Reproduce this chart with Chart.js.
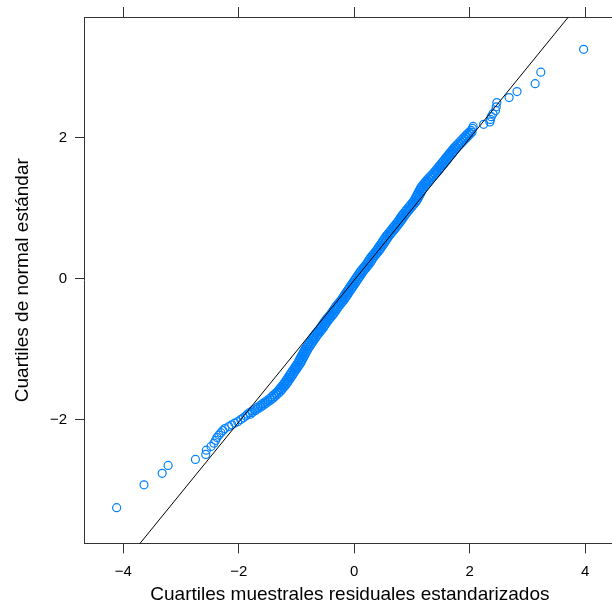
<!DOCTYPE html>
<html>
<head>
<meta charset="utf-8">
<script src="https://cdn.jsdelivr.net/npm/chart.js@4"></script>
<style>
  html, body { margin: 0; padding: 0; background: #fff; overflow: hidden; }
  #wrap { width: 612px; height: 607px; overflow: hidden; }
</style>
</head>
<body>
<div id="wrap"><canvas id="qqChart" width="621" height="607"></canvas></div>
<script>
// standard normal quantiles (vertical axis)
const normalQ = [
  -3.25, -2.925, -2.762, -2.651, -2.565, -2.494, -2.434, -2.382, -2.335, -2.294,
  -2.255, -2.22, -2.186, -2.156, -2.128, -2.10, -2.075, -2.05, -2.03, -2.0,
  -1.975, -1.95, -1.925, -1.9, -1.875, -1.85, -1.825, -1.8, -1.775, -1.75,
  -1.725, -1.7, -1.675, -1.65, -1.625, -1.6, -1.575, -1.55, -1.525, -1.5,
  -1.475, -1.45, -1.425, -1.4, -1.375, -1.35, -1.325, -1.3, -1.275, -1.25,
  -1.225, -1.2, -1.175, -1.15, -1.125, -1.1, -1.075, -1.05, -1.025, -1.0,
  -0.975, -0.95, -0.925, -0.9, -0.875, -0.85, -0.825, -0.8, -0.775, -0.75,
  -0.725, -0.7, -0.675, -0.65, -0.625, -0.6, -0.575, -0.55, -0.525, -0.5,
  -0.475, -0.45, -0.425, -0.4, -0.375, -0.35, -0.325, -0.3, -0.275, -0.25,
  -0.225, -0.2, -0.175, -0.15, -0.125, -0.1, -0.075, -0.05, -0.025, 0.0,
  0.025, 0.05, 0.075, 0.1, 0.125, 0.15, 0.175, 0.2, 0.225, 0.25,
  0.275, 0.3, 0.325, 0.35, 0.375, 0.4, 0.425, 0.45, 0.475, 0.5,
  0.525, 0.55, 0.575, 0.6, 0.625, 0.65, 0.675, 0.7, 0.725, 0.75,
  0.775, 0.8, 0.825, 0.85, 0.875, 0.9, 0.925, 0.95, 0.975, 1.0,
  1.025, 1.05, 1.075, 1.1, 1.125, 1.15, 1.175, 1.2, 1.225, 1.25,
  1.275, 1.3, 1.325, 1.35, 1.375, 1.4, 1.425, 1.45, 1.475, 1.5,
  1.525, 1.55, 1.575, 1.6, 1.625, 1.65, 1.675, 1.7, 1.725, 1.75,
  1.775, 1.8, 1.825, 1.85, 1.875, 1.9, 1.925, 1.95, 1.975, 2.0,
  2.025, 2.05, 2.075, 2.1, 2.128, 2.156, 2.186, 2.22, 2.255, 2.294,
  2.335, 2.382, 2.434, 2.494, 2.565, 2.651, 2.762, 2.925, 3.25
];

// standardized residual sample quantiles (horizontal axis), left edge of the band
const sampleQ = [
  -4.115, -3.641, -3.326, -3.223, -2.75, -2.571, -2.561, -2.48, -2.43, -2.40,
  -2.377, -2.343, -2.309, -2.274, -2.24, -2.172, -2.12, -2.069, -2.017, -1.966,
  -1.92, -1.88, -1.85, -1.814, -1.765, -1.721, -1.672, -1.628, -1.589, -1.544,
  -1.5, -1.46, -1.428, -1.393, -1.358, -1.326, -1.3, -1.277, -1.25, -1.227,
  -1.204, -1.185, -1.163, -1.145, -1.122, -1.104, -1.084, -1.062, -1.041, -1.022,
  -1.0, -0.98, -0.962, -0.947, -0.93, -0.915, -0.898, -0.883, -0.866, -0.85,
  -0.83, -0.809, -0.789, -0.768, -0.748, -0.727, -0.707, -0.685, -0.66, -0.636,
  -0.611, -0.586, -0.566, -0.545, -0.524, -0.503, -0.479, -0.454, -0.429, -0.404,
  -0.384, -0.363, -0.343, -0.323, -0.298, -0.273, -0.248, -0.223, -0.203, -0.182,
  -0.161, -0.141, -0.12, -0.099, -0.079, -0.058, -0.037, -0.017, 0.004, 0.024,
  0.045, 0.065, 0.086, 0.106, 0.131, 0.156, 0.181, 0.206, 0.227, 0.247,
  0.268, 0.288, 0.313, 0.338, 0.363, 0.388, 0.408, 0.428, 0.449, 0.47,
  0.49, 0.511, 0.531, 0.551, 0.576, 0.601, 0.626, 0.651, 0.676, 0.701,
  0.725, 0.75, 0.771, 0.792, 0.812, 0.833, 0.857, 0.882, 0.907, 0.932,
  0.957, 0.982, 1.006, 1.031, 1.048, 1.064, 1.08, 1.097, 1.113, 1.13,
  1.146, 1.162, 1.187, 1.212, 1.237, 1.262, 1.29, 1.319, 1.348, 1.378,
  1.403, 1.428, 1.452, 1.477, 1.502, 1.527, 1.552, 1.577, 1.602, 1.627,
  1.651, 1.676, 1.701, 1.726, 1.755, 1.784, 1.813, 1.842, 1.871, 1.901,
  1.93, 1.959, 1.99, 2.025, 2.048, 2.06, 2.242, 2.35, 2.36, 2.374,
  2.403, 2.448, 2.46, 2.471, 2.683, 2.82, 3.134, 3.232, 3.974
];

// right edge of the dense band, for normalQ[22] .. normalQ[182]
const bandRightQ = [
  -1.80, -1.764, -1.715, -1.671, -1.622, -1.578, -1.539, -1.494, -1.45, -1.41,
  -1.378, -1.343, -1.308, -1.276, -1.25, -1.227, -1.2, -1.177, -1.154, -1.135,
  -1.113, -1.095, -1.072, -1.054, -1.034, -1.012, -0.991, -0.972, -0.95, -0.93,
  -0.912, -0.897, -0.88, -0.865, -0.848, -0.833, -0.816, -0.8, -0.78, -0.759,
  -0.739, -0.718, -0.698, -0.677, -0.657, -0.635, -0.61, -0.586, -0.561, -0.536,
  -0.516, -0.495, -0.474, -0.453, -0.429, -0.404, -0.379, -0.354, -0.334, -0.313,
  -0.293, -0.273, -0.248, -0.223, -0.198, -0.173, -0.153, -0.132, -0.111, -0.091,
  -0.07, -0.049, -0.029, -0.008, 0.013, 0.033, 0.054, 0.074, 0.095, 0.115,
  0.136, 0.156, 0.181, 0.206, 0.231, 0.256, 0.277, 0.297, 0.318, 0.338,
  0.363, 0.388, 0.413, 0.438, 0.458, 0.478, 0.499, 0.52, 0.54, 0.561,
  0.581, 0.601, 0.626, 0.651, 0.676, 0.701, 0.726, 0.751, 0.775, 0.8,
  0.821, 0.842, 0.862, 0.883, 0.907, 0.932, 0.957, 0.982, 1.007, 1.032,
  1.056, 1.081, 1.098, 1.114, 1.13, 1.147, 1.163, 1.18, 1.196, 1.212,
  1.237, 1.262, 1.287, 1.312, 1.34, 1.369, 1.398, 1.428, 1.453, 1.478,
  1.502, 1.527, 1.552, 1.577, 1.602, 1.627, 1.652, 1.677, 1.701, 1.726,
  1.751, 1.776, 1.805, 1.834, 1.863, 1.892, 1.921, 1.951, 1.98, 2.009,
  2.04
];
const bandStart = 22;

// reference line through the quartiles
const refLineX = [-5, 5];
const refLineY = [-5.054, 5.006];

const xTicks = [-4, -2, 0, 2, 4];
const yTicks = [-2, 0, 2];

const xLabel = 'Cuartiles muestrales residuales estandarizados';
const yLabel = 'Cuartiles de normal estándar';

const axisColor = '#333333';
const pointColor = '#0080ff';
const fontFamily = "'Liberation Sans', Arial, Helvetica, sans-serif";

const fmt = v => (v < 0 ? '\u2212' + Math.abs(v) : String(v));

const points = sampleQ.map((x, i) => ({ x: x, y: normalQ[i] }));
bandRightQ.forEach((x, i) => points.push({ x: x, y: normalQ[bandStart + i] }));
const line = refLineX.map((x, i) => ({ x: x, y: refLineY[i] }));

// the panel runs a little past the right edge of the window, as in the original
const xMin = -4.68, xMax = 4.531;

const ctx = document.getElementById('qqChart');
new Chart(ctx, {
    type: 'scatter',
    data: {
        datasets: [
            {
                type: 'line',
                data: line,
                borderColor: '#000000',
                borderWidth: 1,
                pointRadius: 0,
                fill: false,
                order: 0
            },
            {
                data: points,
                pointStyle: 'circle',
                pointRadius: 4,
                pointBorderWidth: 1.2,
                borderColor: pointColor,
                backgroundColor: 'rgba(0,0,0,0)',
                order: 1
            }
        ]
    },
    options: {
        responsive: false,
        animation: false,
        layout: { padding: 0 },
        plugins: {
            legend: { display: false },
            tooltip: { enabled: false }
        },
        scales: {
            x: {
                type: 'linear',
                position: 'bottom',
                min: xMin,
                max: xMax,
                afterBuildTicks: s => { s.ticks = xTicks.map(v => ({ value: v })); },
                afterFit: s => { s.height = 63.6; },
                grid: { drawOnChartArea: false, drawTicks: true, tickLength: 10, color: axisColor, lineWidth: 1 },
                border: { display: true, color: axisColor, width: 1 },
                ticks: {
                    padding: 9,
                    color: '#000',
                    font: { family: fontFamily, size: 15 },
                    maxRotation: 0,
                    callback: v => fmt(v)
                },
                title: {
                    display: true,
                    text: xLabel,
                    color: '#000',
                    font: { family: fontFamily, size: 19, lineHeight: 1.2 },
                    padding: { top: 0, bottom: 1 }
                }
            },
            x2: {
                type: 'linear',
                position: 'top',
                min: xMin,
                max: xMax,
                afterBuildTicks: s => { s.ticks = xTicks.map(v => ({ value: v })); },
                afterFit: s => { s.height = 14.7; },
                grid: { drawOnChartArea: false, drawTicks: true, tickLength: 10, color: axisColor, lineWidth: 1 },
                border: { display: true, color: axisColor, width: 1 },
                ticks: { display: false }
            },
            y: {
                type: 'linear',
                position: 'left',
                min: -3.756,
                max: 3.708,
                afterBuildTicks: s => { s.ticks = yTicks.map(v => ({ value: v })); },
                afterFit: s => { s.width = 84; },
                grid: { drawOnChartArea: false, drawTicks: true, tickLength: 9, color: axisColor, lineWidth: 1 },
                border: { display: true, color: axisColor, width: 1 },
                ticks: {
                    padding: 8,
                    color: '#000',
                    font: { family: fontFamily, size: 15 },
                    callback: v => fmt(v)
                },
                title: {
                    display: true,
                    text: yLabel,
                    color: '#000',
                    font: { family: fontFamily, size: 19, lineHeight: 1.2 },
                    padding: { top: 11, bottom: 0 }
                }
            }
        }
    }
});
</script>
</body>
</html>
